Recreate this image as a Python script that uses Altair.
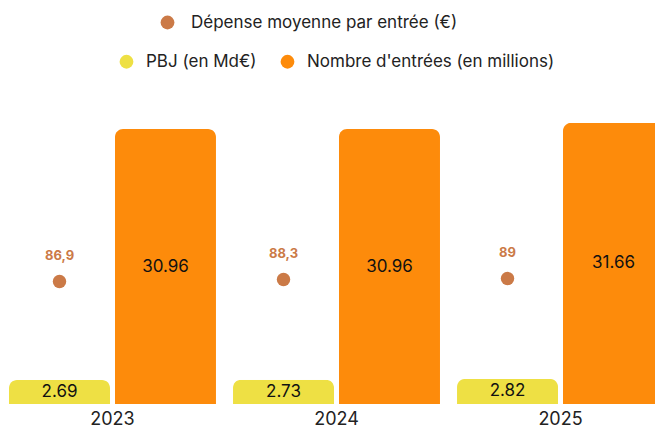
import altair as alt
import pandas as pd

years = ["2023", "2024", "2025"]
pbj = [2.69, 2.73, 2.82]
entrees = [30.96, 30.96, 31.66]
depense = [86.9, 88.3, 89.0]
depense_labels = ["86,9", "88,3", "89"]

s_pbj = "PBJ (en Md€)"
s_ent = "Nombre d'entrées (en millions)"
s_dep = "Dépense moyenne par entrée (€)"
series = [s_pbj, s_ent]

YELLOW = "#EEE044"
ORANGE = "#FD8B0B"
BROWN = "#CB7A47"
FONT = "Inter"

rows = []
for i, y in enumerate(years):
    rows.append({"year": y, "serie": s_pbj, "value": pbj[i]})
    rows.append({"year": y, "serie": s_ent, "value": entrees[i]})
bars_df = pd.DataFrame(rows)

dep_df = pd.DataFrame({
    "year": years,
    "serie": [s_pbj] * 3,
    "dep": depense,
    "lab": depense_labels,
    "leg": [s_dep] * 3,
})

x_enc = alt.X(
    "year:N",
    sort=years,
    scale=alt.Scale(paddingInner=0.076, paddingOuter=0, range=[1, 656]),
    axis=alt.Axis(title=None, domain=False, ticks=False, labelAngle=0,
                  labelFontSize=18, labelPadding=6, labelColor="#222222",
                  labelFont=FONT),
)
xoff = alt.XOffset("serie:N", scale=alt.Scale(domain=series, paddingInner=0.047, paddingOuter=0))
y_bar = alt.Scale(domain=[0, 44.6])
y_dep = alt.Scale(domain=[0, 281])

bars = alt.Chart(bars_df).mark_bar(cornerRadiusTopLeft=8, cornerRadiusTopRight=8).encode(
    x=x_enc,
    xOffset=xoff,
    y=alt.Y("value:Q", scale=y_bar, axis=None),
    color=alt.Color(
        "serie:N",
        scale=alt.Scale(domain=series, range=[YELLOW, ORANGE]),
        legend=alt.Legend(
            orient="none", legendX=110, legendY=45, direction="horizontal",
            title=None, symbolType="circle", symbolSize=190, symbolStrokeWidth=0,
            labelFontSize=17, labelFont=FONT, labelColor="#222222", labelLimit=500,
            padding=0, labelOffset=11, columnPadding=22,
        ),
    ),
)

bar_text = alt.Chart(bars_df).transform_calculate(
    mid="datum.value / 2"
).mark_text(fontSize=17, font=FONT, color="#111111", baseline="middle").encode(
    x=x_enc,
    xOffset=xoff,
    y=alt.Y("mid:Q", scale=y_bar, axis=None),
    text=alt.Text("value:Q", format=".2f"),
)

dots = alt.Chart(dep_df).mark_circle(size=180, opacity=1).encode(
    x=x_enc,
    xOffset=xoff,
    y=alt.Y("dep:Q", scale=y_dep, axis=None),
    color=alt.Color(
        "leg:N",
        scale=alt.Scale(domain=[s_dep], range=[BROWN]),
        legend=alt.Legend(
            orient="none", legendX=151, legendY=6, title=None,
            symbolType="circle", symbolSize=190, symbolStrokeWidth=0,
            labelFontSize=17, labelFont=FONT, labelColor="#222222", labelLimit=500,
            padding=0, labelOffset=15,
        ),
    ),
)

dot_text = alt.Chart(dep_df).mark_text(
    fontSize=13, font=FONT, fontWeight="bold", color=BROWN, dy=-26, baseline="middle"
).encode(
    x=x_enc,
    xOffset=xoff,
    y=alt.Y("dep:Q", scale=y_dep, axis=None),
    text="lab:N",
)

chart = alt.layer(bars, bar_text, dots, dot_text).resolve_scale(
    y="independent", color="independent"
).properties(
    width=647, height=396,
    padding={"left": 0, "top": 0, "right": 0, "bottom": 25},
    autosize=alt.AutoSizeParams(type="none"),
).configure(font=FONT, view=alt.ViewConfig(stroke=None))

chart.save("out.html", embed_options={"renderer": "svg", "actions": False})
